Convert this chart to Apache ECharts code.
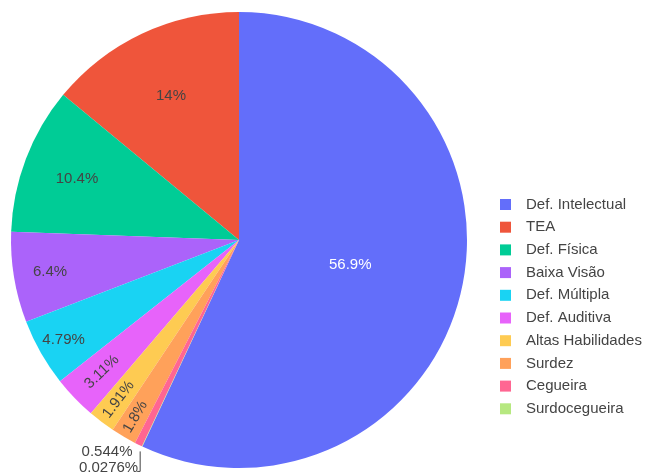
<!DOCTYPE html>
<html>
<head>
<meta charset="utf-8">
<script src="https://cdn.jsdelivr.net/npm/echarts@6/dist/echarts.min.js"></script>
</head>
<body style="margin:0;background:#fff">
<div id="main" style="width:646px;height:475px;"></div>
<script>
var categories = ['Def. Intelectual', 'TEA', 'Def. Física', 'Baixa Visão', 'Def. Múltipla',
    'Def. Auditiva', 'Altas Habilidades', 'Surdez', 'Cegueira', 'Surdocegueira'];
var shares = [56.9, 14, 10.4, 6.4, 4.79, 3.11, 1.91, 1.8, 0.544, 0.0276];
var colors = ['#636efa', '#ef553b', '#00cc96', '#ab63fa', '#19d3f3',
    '#e763fa', '#fecb52', '#ffa15a', '#ff6692', '#b6e880'];

// how far out (part of the radius) each inside label sits
var labelRadius = [0.5, 0.7, 0.76, 0.84, 0.885, 0.835, 0.877, 0.9, 1, 1];

var cx = 239, cy = 240, R = 228;
var total = shares.reduce(function (a, b) { return a + b; }, 0);
var startAngle = 90 - 360 * shares[0] / total;

// mid angle of every slice (counterclockwise, degrees)
var mids = [];
var acc = 0;
shares.forEach(function (v) {
    mids.push(startAngle + 360 * (acc + v / 2) / total);
    acc += v;
});

var font = 'Liberation Sans, Arial, sans-serif';

var data = categories.map(function (name, i) {
    var item = {
        name: name,
        value: shares[i],
        itemStyle: { color: colors[i] },
        label: { color: i === 0 ? '#fff' : '#444' }
    };
    if (i >= 5 && i <= 7) {
        item.label.rotate = 'radial';
    }
    if (i >= 8) {
        item.label = { position: 'outside', color: '#444' };
        item.labelLine = { show: i === 9 };
    }
    return item;
});

function polar(angle, rho) {
    var a = angle * Math.PI / 180;
    return [cx + Math.cos(a) * rho, cy - Math.sin(a) * rho];
}

var myChart = echarts.init(document.getElementById('main'));
myChart.setOption({
    backgroundColor: '#fff',
    animation: false,
    legend: {
        orient: 'vertical',
        left: 495,
        top: 192,
        itemWidth: 31,
        itemHeight: 11,
        itemGap: 7.7,
        icon: 'path://M0,0H10V10H0Z',
        textStyle: { fontFamily: font, fontSize: 15, color: '#444' },
        data: categories
    },
    series: [{
        type: 'pie',
        center: [cx, cy],
        radius: [0, R],
        clockwise: false,
        startAngle: startAngle,
        avoidLabelOverlap: false,
        label: {
            show: true,
            position: 'inside',
            fontFamily: font,
            fontSize: 15,
            formatter: function (p) { return p.value + '%'; }
        },
        labelLine: { show: false, length: 6, length2: 4, lineStyle: { color: '#444', width: 1 } },
        labelLayout: function (p) {
            var i = p.dataIndex;
            if (i >= 8) {
                var e = polar(mids[i], R);
                if (i === 8) {
                    return { x: e[0] - 6, y: e[1] + 7, align: 'right', verticalAlign: 'middle' };
                }
                return {
                    x: e[0] - 4, y: e[1] + 21, align: 'right', verticalAlign: 'middle',
                    labelLinePoints: [[e[0] - 2, e[1] + 5], [e[0] - 2, e[1] + 25], [e[0] - 5, e[1] + 25]]
                };
            }
            var pt = polar(mids[i], labelRadius[i] * R);
            return { x: pt[0], y: pt[1] };
        },
        emphasis: { disabled: true },
        data: data
    }]
});
</script>
</body>
</html>
